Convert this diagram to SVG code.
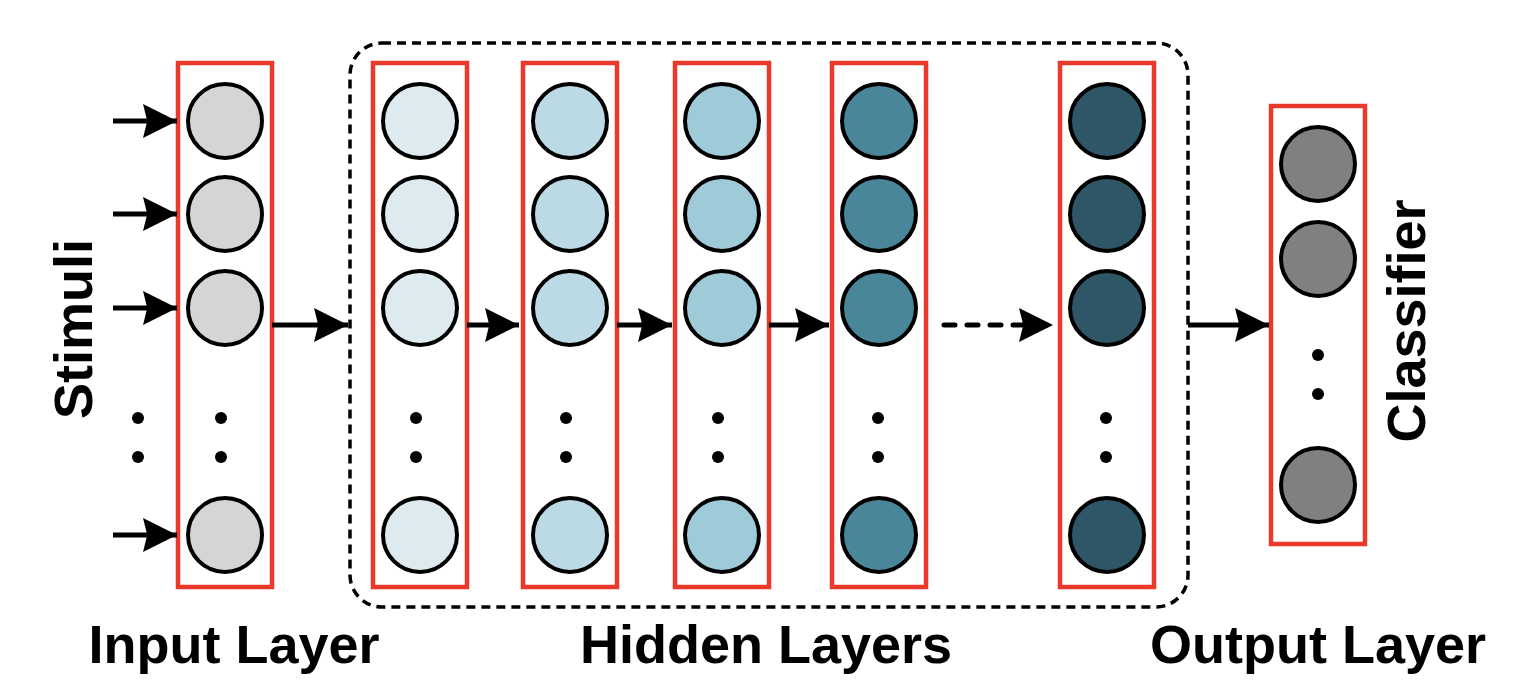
<svg xmlns="http://www.w3.org/2000/svg" width="1526" height="696" viewBox="0 0 1526 696">
<defs>
<style>
.layer{fill:none;stroke:#e8392a;stroke-width:4.5}
.n{stroke:#000;stroke-width:4}
.in{fill:#d5d5d5}.h1{fill:#ddebf0}.h2{fill:#bcdae5}.h3{fill:#9fcbd9}.h4{fill:#4a8699}.h5{fill:#2f5666}.out{fill:#808080}
.dot{fill:#000}
.conn{stroke:#000;stroke-width:5;fill:none}
.dash{stroke-dasharray:11 12;stroke-linecap:round}
.box{fill:none;stroke:#000;stroke-width:3.5;stroke-dasharray:9 6}
.lbl{font-family:"Liberation Sans",Arial,sans-serif;font-weight:bold;font-size:54px;fill:#000}
</style>
<marker id="ah" markerUnits="userSpaceOnUse" markerWidth="34" markerHeight="34" viewBox="0 0 32 32" refX="32" refY="16" orient="auto">
<path d="M0,0 L32,16 L0,32 L4,16 Z" fill="#000"/>
</marker>
</defs>
<rect width="1526" height="696" fill="#fff"/>

<rect id="hidden-box" class="box" x="350" y="43" width="838" height="564" rx="32" ry="32"/>

<g id="input-layer">
<rect class="layer" x="178" y="63" width="94" height="524"/>
<circle class="n in" cx="225" cy="121" r="37"/>
<circle class="n in" cx="225" cy="214" r="37"/>
<circle class="n in" cx="225" cy="308" r="37"/>
<circle class="dot" cx="221" cy="418" r="6"/>
<circle class="dot" cx="221" cy="457" r="6"/>
<circle class="n in" cx="225" cy="535" r="37"/>
</g>

<g id="hidden-layer-1">
<rect class="layer" x="373" y="63" width="94" height="524"/>
<circle class="n h1" cx="420" cy="121" r="37"/>
<circle class="n h1" cx="420" cy="214" r="37"/>
<circle class="n h1" cx="420" cy="308" r="37"/>
<circle class="dot" cx="416" cy="418" r="6"/>
<circle class="dot" cx="416" cy="457" r="6"/>
<circle class="n h1" cx="420" cy="535" r="37"/>
</g>

<g id="hidden-layer-2">
<rect class="layer" x="523" y="63" width="94" height="524"/>
<circle class="n h2" cx="570" cy="121" r="37"/>
<circle class="n h2" cx="570" cy="214" r="37"/>
<circle class="n h2" cx="570" cy="308" r="37"/>
<circle class="dot" cx="566" cy="418" r="6"/>
<circle class="dot" cx="566" cy="457" r="6"/>
<circle class="n h2" cx="570" cy="535" r="37"/>
</g>

<g id="hidden-layer-3">
<rect class="layer" x="675" y="63" width="94" height="524"/>
<circle class="n h3" cx="722" cy="121" r="37"/>
<circle class="n h3" cx="722" cy="214" r="37"/>
<circle class="n h3" cx="722" cy="308" r="37"/>
<circle class="dot" cx="718" cy="418" r="6"/>
<circle class="dot" cx="718" cy="457" r="6"/>
<circle class="n h3" cx="722" cy="535" r="37"/>
</g>

<g id="hidden-layer-4">
<rect class="layer" x="832" y="63" width="94" height="524"/>
<circle class="n h4" cx="879" cy="121" r="37"/>
<circle class="n h4" cx="879" cy="214" r="37"/>
<circle class="n h4" cx="879" cy="308" r="37"/>
<circle class="dot" cx="878" cy="418" r="6"/>
<circle class="dot" cx="878" cy="457" r="6"/>
<circle class="n h4" cx="879" cy="535" r="37"/>
</g>

<g id="hidden-layer-n">
<rect class="layer" x="1060" y="63" width="94" height="524"/>
<circle class="n h5" cx="1107" cy="121" r="37"/>
<circle class="n h5" cx="1107" cy="214" r="37"/>
<circle class="n h5" cx="1107" cy="308" r="37"/>
<circle class="dot" cx="1106" cy="418" r="6"/>
<circle class="dot" cx="1106" cy="457" r="6"/>
<circle class="n h5" cx="1107" cy="535" r="37"/>
</g>

<g id="output-layer">
<rect class="layer" x="1271" y="106" width="94" height="438"/>
<circle class="n out" cx="1318" cy="164" r="37"/>
<circle class="n out" cx="1318" cy="259" r="37"/>
<circle class="dot" cx="1318" cy="355" r="6"/>
<circle class="dot" cx="1318" cy="394" r="6"/>
<circle class="n out" cx="1318" cy="485" r="37"/>
</g>

<g id="stimuli-dots">
<circle class="dot" cx="138" cy="418" r="6"/>
<circle class="dot" cx="138" cy="457" r="6"/>
</g>

<g id="connectors">
<line class="conn" x1="113" y1="121" x2="177" y2="121" marker-end="url(#ah)"/>
<line class="conn" x1="113" y1="214" x2="177" y2="214" marker-end="url(#ah)"/>
<line class="conn" x1="113" y1="308" x2="177" y2="308" marker-end="url(#ah)"/>
<line class="conn" x1="113" y1="535" x2="177" y2="535" marker-end="url(#ah)"/>
<line class="conn" x1="272" y1="325" x2="348" y2="325" marker-end="url(#ah)"/>
<line class="conn" x1="467" y1="325" x2="519" y2="325" marker-end="url(#ah)"/>
<line class="conn" x1="617" y1="325" x2="672" y2="325" marker-end="url(#ah)"/>
<line class="conn" x1="769" y1="325" x2="829" y2="325" marker-end="url(#ah)"/>
<line class="conn dash" x1="944" y1="325" x2="1053" y2="325" marker-end="url(#ah)"/>
<line class="conn" x1="1188" y1="325" x2="1269" y2="325" marker-end="url(#ah)"/>
</g>

<g id="labels">
<text class="lbl" x="234" y="663" text-anchor="middle">Input Layer</text>
<text class="lbl" x="766" y="663" text-anchor="middle">Hidden Layers</text>
<text class="lbl" x="1318" y="663" text-anchor="middle">Output Layer</text>
<text class="lbl" text-anchor="middle" transform="translate(92,329) rotate(-90)">Stimuli</text>
<text class="lbl" text-anchor="middle" transform="translate(1425,321) rotate(-90)">Classifier</text>
</g>
</svg>
